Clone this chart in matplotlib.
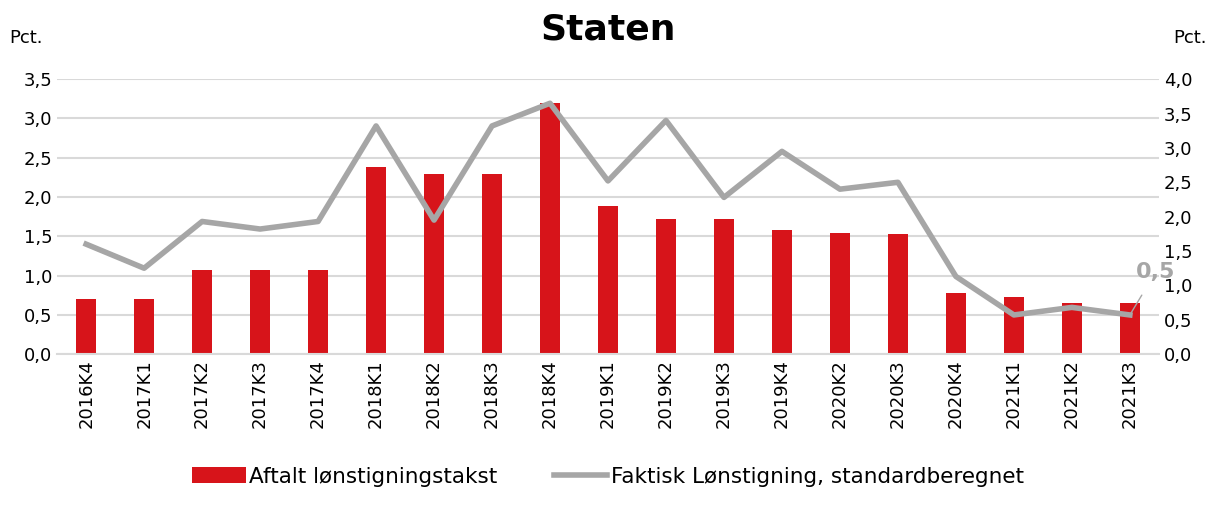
import matplotlib.pyplot as plt
import numpy as np
from matplotlib.ticker import FuncFormatter

# Data
quarters = ['2016K4', '2017K1', '2017K2', '2017K3', '2017K4', '2018K1', '2018K2', '2018K3',
            '2018K4', '2019K1', '2019K2', '2019K3', '2019K4', '2020K2', '2020K3', '2020K4',
            '2021K1', '2021K2', '2021K3']
aftalt = [0.70, 0.70, 1.07, 1.07, 1.07, 2.38, 2.29, 2.29, 3.20, 1.88, 1.72, 1.72, 1.58,
          1.54, 1.53, 0.78, 0.73, 0.65, 0.65]
faktisk = [1.60, 1.25, 1.93, 1.82, 1.93, 3.32, 1.95, 3.32, 3.65, 2.52, 3.40, 2.28, 2.95,
           2.40, 2.50, 1.13, 0.57, 0.68, 0.57]

red = '#d7141a'
grey = '#a6a6a6'

def comma(v, pos):
    return f'{v:.1f}'.replace('.', ',')

fig, ax = plt.subplots(figsize=(12.16, 5.11), dpi=100)
fig.subplots_adjust(left=0.047, right=0.953, top=0.845, bottom=0.307)
x = np.arange(len(quarters))

ax.bar(x, aftalt, width=0.34, color=red, zorder=2, label='Aftalt lønstigningstakst')
ax.set_ylim(0, 3.5)
ax.set_yticks(np.arange(0, 3.51, 0.5))
ax.yaxis.set_major_formatter(FuncFormatter(comma))
ax.grid(axis='y', color='#d9d9d9', linewidth=1.5, zorder=0)
ax.set_axisbelow(True)
ax.set_xlim(-0.5, len(quarters) - 0.5)
ax.set_xticks(x)
ax.set_xticklabels(quarters, rotation=90)

ax2 = ax.twinx()
ax2.plot(x, faktisk, color=grey, linewidth=4, zorder=3,
         label='Faktisk Lønstigning, standardberegnet')
ax2.set_ylim(0, 4.0)
ax2.set_yticks(np.arange(0, 4.01, 0.5))
ax2.yaxis.set_major_formatter(FuncFormatter(comma))

ax2.annotate('0,5', xy=(x[-1], faktisk[-1]), xytext=(x[-1] + 0.45, 1.2),
             color=grey, fontsize=16, fontweight='bold', ha='center', va='center',
             arrowprops=dict(arrowstyle='-', color=grey, lw=1, shrinkA=9, shrinkB=0))

for a in (ax, ax2):
    for s in a.spines.values():
        s.set_visible(False)
    a.tick_params(length=0, labelsize=13, colors='black')
ax.tick_params(axis='x', labelsize=13)
ax.spines['bottom'].set_visible(True)
ax.spines['bottom'].set_color('#d9d9d9')
ax.spines['bottom'].set_linewidth(1.5)

fig.text(0.008, 0.915, 'Pct.', fontsize=13)
fig.text(0.992, 0.915, 'Pct.', fontsize=13, ha='right')
fig.suptitle('Staten', fontsize=26, fontweight='bold', y=0.975)

h1, l1 = ax.get_legend_handles_labels()
h2, l2 = ax2.get_legend_handles_labels()
fig.legend(h1 + h2, l1 + l2, loc='lower center', bbox_to_anchor=(0.5, 0.01), ncol=2,
           frameon=False, fontsize=15.5, handlelength=2.5, handletextpad=0.15,
           columnspacing=2.6)

plt.savefig('out.png')
